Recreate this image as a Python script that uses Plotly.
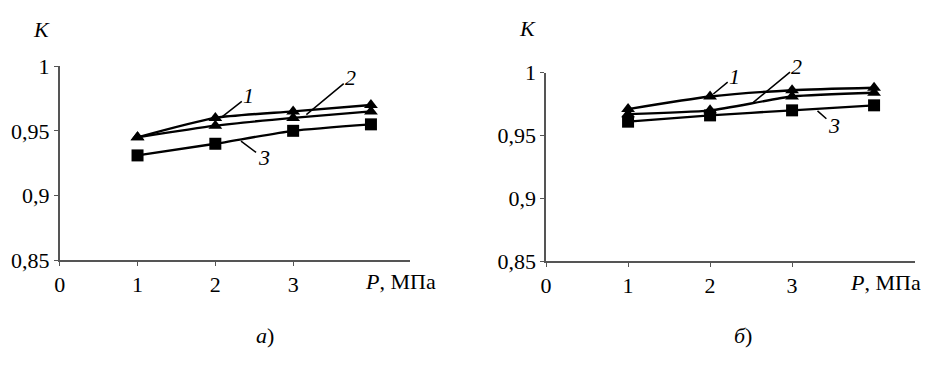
import plotly.graph_objects as go

# Pressure, MPa
pressure = [1, 2, 3, 4]

# Panel а)
k_a_1 = [0.945, 0.960, 0.965, 0.970]
k_a_2 = [0.945, 0.954, 0.960, 0.965]
k_a_3 = [0.931, 0.940, 0.950, 0.955]

# Panel б)
k_b_1 = [0.971, 0.981, 0.986, 0.988]
k_b_2 = [0.967, 0.970, 0.981, 0.984]
k_b_3 = [0.961, 0.966, 0.970, 0.974]

x_tick_vals = [0, 1, 2, 3]
x_tick_text = ["0", "1", "2", "3"]
y_tick_vals = [0.85, 0.9, 0.95, 1.0]
y_tick_text = ["0,85", "0,9", "0,95", "1"]

FONT = "Liberation Serif"
AXIS_COLOR = "#555555"

fig = go.Figure()

panels = [
    ("x", "y", [(k_a_1, "triangle-up"), (k_a_2, "triangle-up"), (k_a_3, "square")]),
    ("x2", "y2", [(k_b_1, "triangle-up"), (k_b_2, "triangle-up"), (k_b_3, "square")]),
]
for xa, ya, series in panels:
    for vals, sym in series:
        fig.add_trace(go.Scatter(
            x=pressure, y=vals, xaxis=xa, yaxis=ya,
            mode="lines+markers",
            line=dict(color="black", width=2.4, shape="spline", smoothing=0.6),
            marker=dict(symbol=sym, size=12, color="black"),
            showlegend=False, cliponaxis=False,
        ))

axis_common = dict(
    showline=True, linecolor=AXIS_COLOR, linewidth=1.5,
    showgrid=False, zeroline=False,
    ticks="outside", ticklen=4, tickcolor=AXIS_COLOR, tickwidth=1,
    tickfont=dict(family=FONT, size=22, color="black"),
)

fig.update_layout(
    width=931, height=374,
    margin=dict(l=0, r=0, t=0, b=0),
    paper_bgcolor="white", plot_bgcolor="white",
    font=dict(family=FONT, size=22, color="black"),
    xaxis=dict(domain=[0.0591, 0.4372], range=[0, 4.5], anchor="y",
               tickvals=x_tick_vals, ticktext=x_tick_text, **axis_common),
    yaxis=dict(domain=[0.2888, 0.8449], range=[0.85, 1.0], anchor="x",
               tickvals=y_tick_vals, ticktext=y_tick_text, **axis_common),
    xaxis2=dict(domain=[0.5843, 0.9828], range=[0, 4.5], anchor="y2",
                tickvals=x_tick_vals, ticktext=x_tick_text, **axis_common),
    yaxis2=dict(domain=[0.2861, 0.8262], range=[0.85, 1.0], anchor="x2",
                tickvals=y_tick_vals, ticktext=y_tick_text, **axis_common),
)

annotations = []

# Axis names
for xa, ya, kshift, pshift in [("x", "y", 22, -8), ("x2", "y2", 30, -26)]:
    annotations.append(dict(x=0, y=1.0, xref=xa, yref=ya, text="<i>K</i>",
                            showarrow=False, xanchor="right", yanchor="bottom",
                            xshift=-8, yshift=kshift))
    annotations.append(dict(x=4, y=0.85, xref=xa, yref=ya, text="<i>P</i>, МПа",
                            showarrow=False, xanchor="left", yanchor="top",
                            xshift=pshift, yshift=-7))

# Curve numbers with leader lines
leaders = [
    ("x", "y", "1", 2.09, 0.961, 2.43, 0.977),
    ("x", "y", "2", 3.17, 0.9625, 3.74, 0.991),
    ("x", "y", "3", 2.33, 0.942, 2.62, 0.929),
    ("x2", "y2", "1", 2.04, 0.983, 2.30, 0.997),
    ("x2", "y2", "2", 2.52, 0.976, 3.06, 1.005),
    ("x2", "y2", "3", 3.31, 0.9696, 3.51, 0.958),
]
for xa, ya, txt, x0, y0, x1, y1 in leaders:
    annotations.append(dict(
        x=x0, y=y0, xref=xa, yref=ya, ax=x1, ay=y1, axref=xa, ayref=ya,
        text=f"<i>{txt}</i>", showarrow=True, arrowhead=0, arrowwidth=1.5,
        arrowcolor="black", standoff=0,
    ))

# Panel captions
annotations.append(dict(x=250 / 931, y=1 - 362 / 374, xref="paper", yref="paper",
                        text="<i>а</i>)", showarrow=False))
annotations.append(dict(x=753 / 931, y=1 - 362 / 374, xref="paper", yref="paper",
                        text="<i>б</i>)", showarrow=False))

fig.update_layout(annotations=annotations)

fig.write_html("out.html")
